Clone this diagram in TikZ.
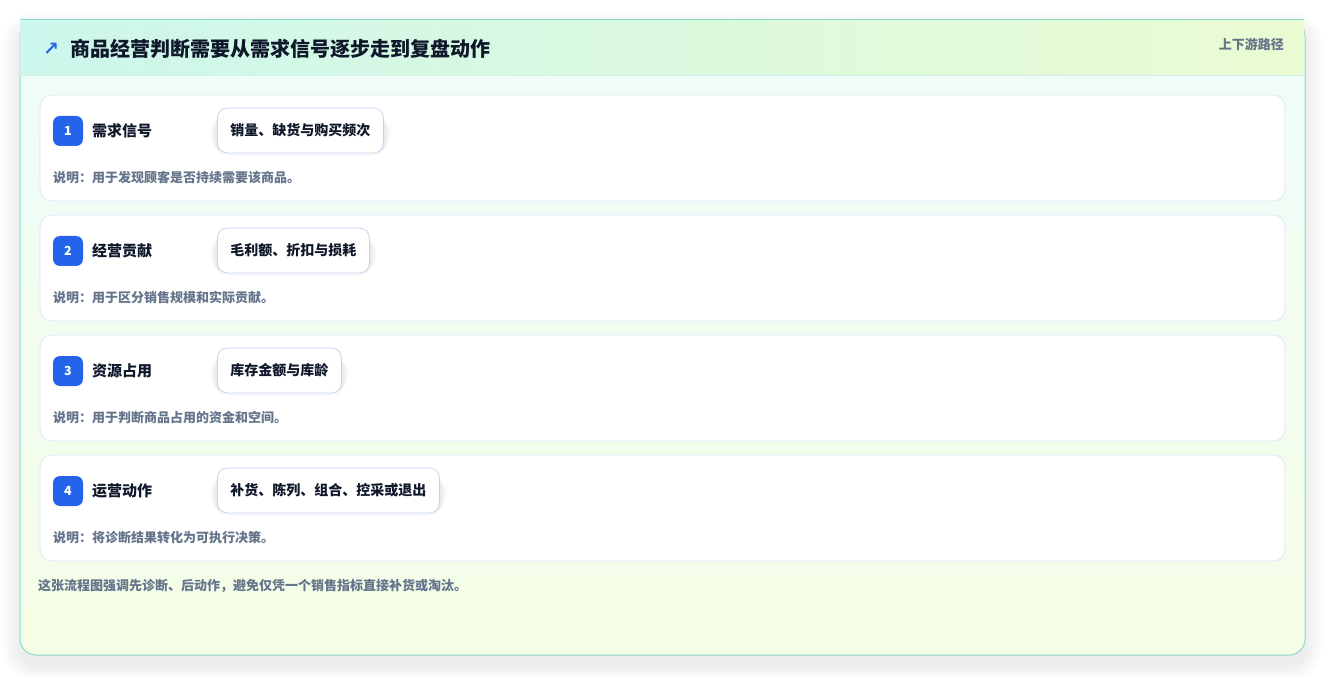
\documentclass[tikz,border=0pt]{standalone}
\usepackage{fontspec}
\setmainfont{Noto Sans CJK SC}
\newfontfamily\symfont{DejaVu Sans}
\definecolor{cardborder}{HTML}{86DCCB}
\definecolor{hdrL}{HTML}{CCF7EC}
\definecolor{hdrR}{HTML}{EAFBD2}
\definecolor{bodyT}{HTML}{EFFCFA}
\definecolor{bodyB}{HTML}{F5FDE6}
\definecolor{rowborder}{HTML}{DCE8F2}
\definecolor{pillborder}{HTML}{C5D6EE}
\definecolor{badgeblue}{HTML}{2563EB}
\definecolor{ink}{HTML}{0F172A}
\definecolor{muted}{HTML}{64748B}
\definecolor{shadowc}{HTML}{1E293B}
\pgfdeclarelayer{bglayer}
\pgfdeclarelayer{midlayer}
\pgfsetlayers{bglayer,midlayer,main}
\tikzset{
  rowcard/.style={draw=rowborder, line width=0.8pt, fill=white, rounded corners=12pt},
  badge/.style={fill=badgeblue, rounded corners=7pt, minimum width=30pt, minimum height=30pt, inner sep=0pt, text=white, font=\bfseries\fontsize{12.5}{14}\selectfont},
  steplabel/.style={anchor=west, inner sep=0pt, text=ink, font=\bfseries\fontsize{15}{17}\selectfont},
  pill/.style={anchor=west, draw=pillborder, line width=0.8pt, fill=white, rounded corners=10pt, minimum height=45pt, inner xsep=13pt, text=ink, font=\bfseries\fontsize{14}{16}\selectfont},
  desc/.style={anchor=west, inner sep=0pt, text=muted, font=\bfseries\fontsize{13}{15}\selectfont},
}
\begin{document}
\begin{tikzpicture}[x=1pt,y=-1pt]
\begin{pgfonlayer}{bglayer}
\useasboundingbox[fill=white] (0,0) rectangle (1325,676);
% outer card shadow (manual soft layers)
\foreach \k in {1,...,18}{
  \fill[shadowc, opacity=0.0045, rounded corners=16pt+\k pt] (20-\k,20-\k+9) rectangle (1305+\k,655+\k+9);
}
\shade[top color=bodyT, bottom color=bodyB, rounded corners=16pt] (20,20) rectangle (1305,655);
\draw[cardborder, line width=1pt, rounded corners=16pt] (20,20) rectangle (1305,655);
% header band
\shade[left color=hdrL, right color=hdrR] (20,20) rectangle (1304,75);
\draw[cardborder, line width=1pt] (20,20) -- (1304,20);
\draw[cardborder!40, line width=0.8pt] (20,75) -- (1304,75);
\end{pgfonlayer}
\node[anchor=center, inner sep=0pt, text=badgeblue, font=\symfont\bfseries\fontsize{19}{20}\selectfont] (arrow) at (51,49) {↗};
\node[anchor=west, inner sep=0pt, text=ink, font=\bfseries\fontsize{20}{22}\selectfont] (title) at (70,49) {商品经营判断需要从需求信号逐步走到复盘动作};
\node[anchor=east, inner sep=0pt, text=muted, font=\bfseries\fontsize{13}{15}\selectfont] (tag) at (1284,44) {上下游路径};
% rows
\foreach \i/\lab/\pilltxt/\d in {
  1/需求信号/销量、缺货与购买频次/说明：用于发现顾客是否持续需要该商品。,
  2/经营贡献/毛利额、折扣与损耗/说明：用于区分销售规模和实际贡献。,
  3/资源占用/库存金额与库龄/说明：用于判断商品占用的资金和空间。,
  4/运营动作/补货、陈列、组合、控采或退出/说明：将诊断结果转化为可执行决策。}{
  \pgfmathsetmacro{\yy}{95+120*(\i-1)}
  \begin{pgfonlayer}{bglayer}
    \draw[rowcard] (40,\yy) rectangle (1285,\yy+106);
  \end{pgfonlayer}
  \node[badge] (b\i) at (68,\yy+36) {\i};
  \node[steplabel] (l\i) at (92,\yy+36) {\lab};
  \node[pill] (p\i) at (217,\yy+35.5) {\pilltxt};
  \begin{pgfonlayer}{midlayer}
  \foreach \s in {1,...,7}{
    \fill[shadowc, opacity=0.01, rounded corners=10pt+\s pt] ([xshift=-\s pt, yshift=\s pt-4pt]p\i.south west) rectangle ([xshift=\s pt, yshift=-\s pt-4pt]p\i.north east);
  }
  \end{pgfonlayer}
  \node[desc] (d\i) at (53,\yy+83) {\d};
}
\node[anchor=west, inner sep=0pt, text=muted, font=\bfseries\fontsize{13}{15}\selectfont] (foot) at (38,586) {这张流程图强调先诊断、后动作，避免仅凭一个销售指标直接补货或淘汰。};
\end{tikzpicture}
\end{document}
